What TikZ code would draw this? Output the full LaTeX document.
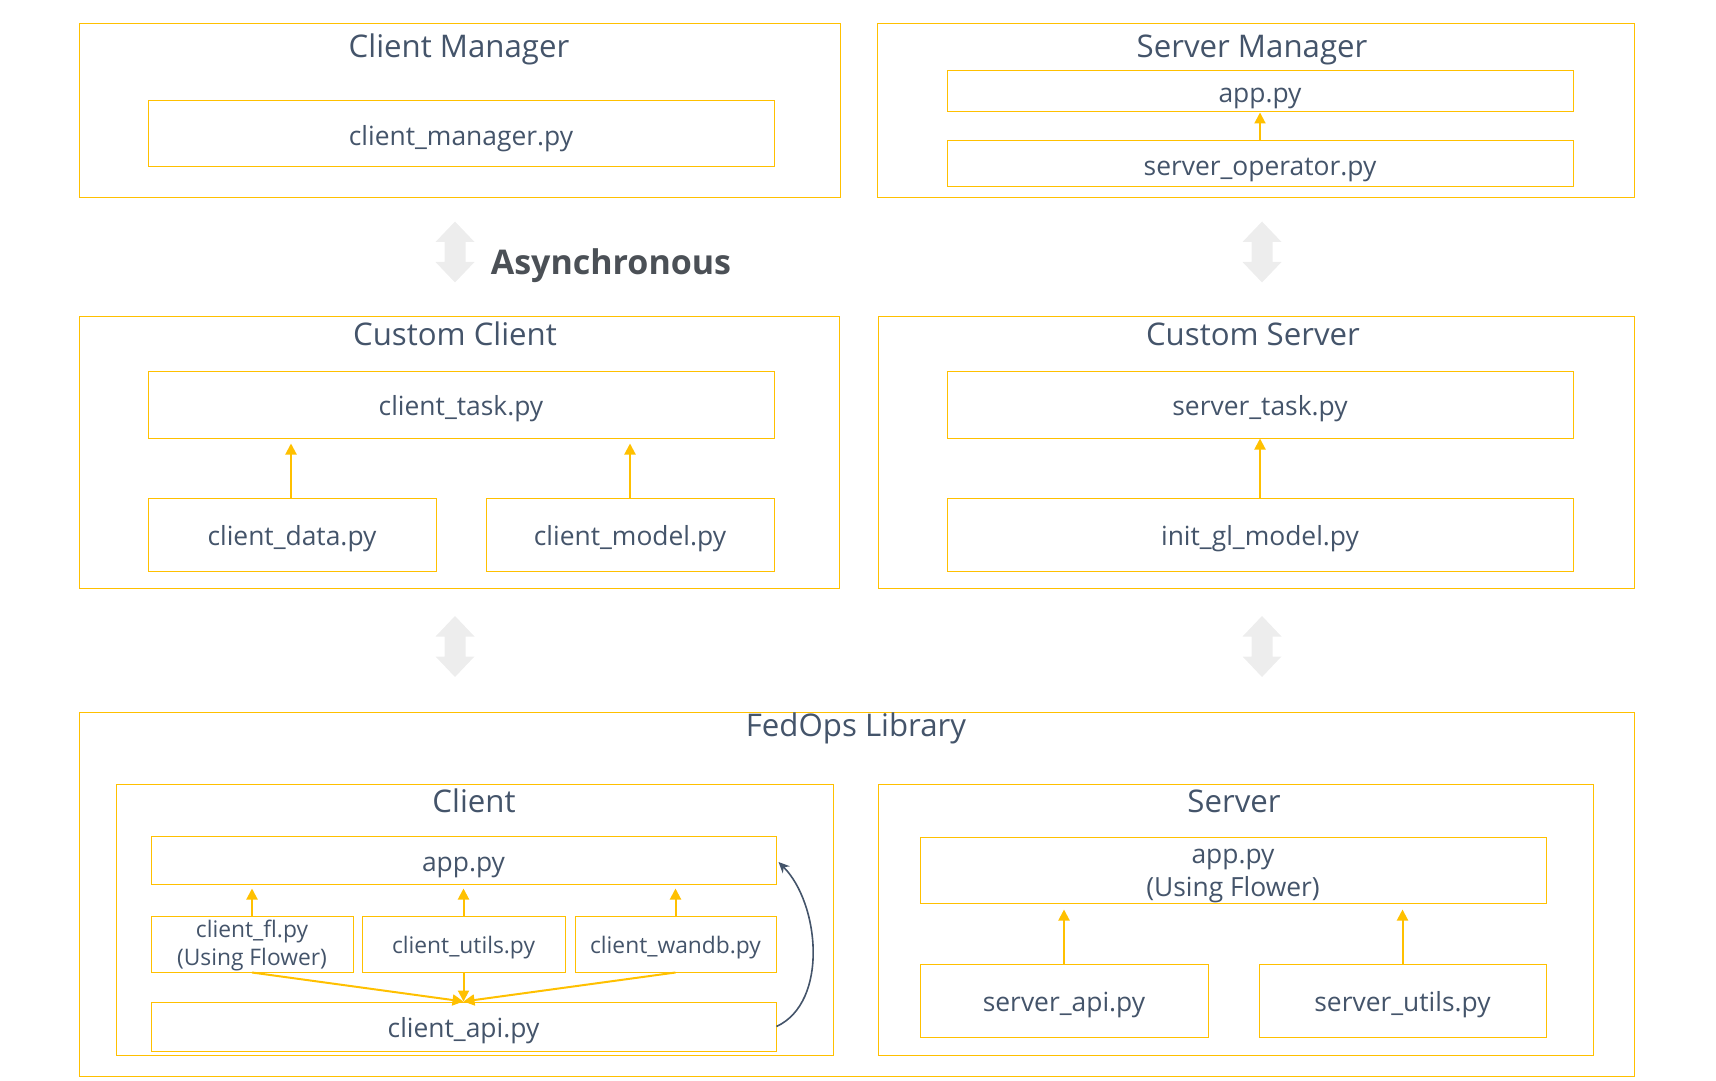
\documentclass[tikz,border=0pt]{standalone}
\usepackage{fontspec}
\setmainfont{Open Sans}
\usetikzlibrary{arrows.meta}
\usetikzlibrary{positioning}
\usetikzlibrary{calc}
\definecolor{boxYellow}{HTML}{FFC000}
\definecolor{textSlate}{HTML}{44546A}
\definecolor{asyncGray}{HTML}{EDEDED}
\definecolor{asyncText}{HTML}{4B5056}
\newcommand\titleFont{\fontsize{15.6}{18}\selectfont}
\newcommand\fileFont{\fontsize{13.2}{16.4}\selectfont}
\newcommand\smallFont{\fontsize{11.4}{13.8}\selectfont}

\begin{document}
\begin{tikzpicture}[
    x=0.5pt, y=-0.5pt,
    groupBox/.style={
        rectangle, draw=boxYellow, line width=0.5pt, inner sep=0pt
    },
    fileLines/.style={
        rectangle, draw=boxYellow, line width=0.5pt, inner sep=0pt,
        text=textSlate, font=\fileFont, align=center
    },
    fileBox/.style={fileLines, text height=14.4pt, text depth=3.3pt},
    smallLines/.style={fileLines, font=\smallFont},
    smallFile/.style={smallLines, text height=12.1pt, text depth=2.9pt},
    groupTitle/.style={text=textSlate, font=\titleFont, inner sep=0pt},
    depArrow/.style={-{Triangle[width=5.5pt,length=5.5pt]}, draw=boxYellow, line width=1pt},
    loopArrow/.style={-{Stealth[width=5pt,length=5.5pt]}, draw=textSlate, line width=0.8pt}
]
\useasboundingbox (0,0) rectangle (1716,1080);

\node[groupBox, minimum width=380.5pt, minimum height=87pt] (clientManager) at (459.5,111) {};
\node[groupBox, minimum width=378.5pt, minimum height=87pt] (serverManager) at (1255.5,111) {};
\node[groupTitle] (clientManagerTitle) at (459,49.5) {Client Manager};
\node[groupTitle] (serverManagerTitle) at (1252,49.5) {Server Manager};
\node[fileBox, minimum width=313pt, minimum height=33pt] (clientManagerPy) at (461,134) {client\_manager.py};
\node[fileBox, minimum width=313pt, minimum height=20.5pt] (managerApp) at (1260,91.5) {app.py};
\node[fileBox, minimum width=313pt, minimum height=23pt] (serverOperator) at (1260,164) {server\_operator.py};

\node[font=\bfseries\fontsize{17}{20}\selectfont, text=asyncText, inner sep=0pt] (async) at (611,265.5) {Asynchronous};

\node[groupBox, minimum width=380pt, minimum height=135.5pt] (customClient) at (459,452.5) {};
\node[groupBox, minimum width=378pt, minimum height=135.5pt] (customServer) at (1256,452.5) {};
\node[groupTitle] (customClientTitle) at (455,334) {Custom Client};
\node[groupTitle] (customServerTitle) at (1253,334) {Custom Server};
\node[fileBox, minimum width=313pt, minimum height=33.5pt] (clientTask) at (461,404.5) {client\_task.py};
\node[fileBox, minimum width=144pt, minimum height=36.5pt] (clientData) at (292,534.5) {client\_data.py};
\node[fileBox, minimum width=144pt, minimum height=36.5pt] (clientModel) at (630,534.5) {client\_model.py};
\node[fileBox, minimum width=313pt, minimum height=33.5pt] (serverTask) at (1260,404.5) {server\_task.py};
\node[fileBox, minimum width=313pt, minimum height=36.5pt] (initModel) at (1260,534.5) {init\_gl\_model.py};

\node[groupBox, minimum width=777.5pt, minimum height=182pt] (fedops) at (856.5,894) {};
\node[groupTitle] (fedopsTitle) at (856,728) {FedOps Library};
\node[groupBox, minimum width=358.5pt, minimum height=135.5pt] (libClient) at (474.5,919.5) {};
\node[groupBox, minimum width=357.5pt, minimum height=135.5pt] (libServer) at (1235.5,919.5) {};
\node[groupTitle] (libClientTitle) at (474,801) {Client};
\node[groupTitle] (libServerTitle) at (1234,801) {Server};

\node[fileBox, minimum width=312.5pt, minimum height=24pt] (clientApp) at (463.5,860) {app.py};
\node[smallLines, minimum width=101pt, minimum height=28pt] (clientFl) at (252,944) {\rule{0pt}{10pt}client\_fl.py\\(Using Flower)};
\node[smallFile, minimum width=101.5pt, minimum height=28pt] (clientUtils) at (463.5,944) {client\_utils.py};
\node[smallFile, minimum width=100.5pt, minimum height=28pt] (clientWandb) at (675.5,944) {client\_wandb.py};
\node[fileBox, minimum width=312.5pt, minimum height=24.5pt] (clientApi) at (463.5,1026.5) {client\_api.py};

\node[fileLines, minimum width=313pt, minimum height=33pt] (serverApp) at (1233,870) {\rule{0pt}{13pt}app.py\\(Using Flower)};
\node[fileBox, minimum width=144pt, minimum height=36.5pt] (serverApi) at (1064,1000.5) {server\_api.py};
\node[fileBox, minimum width=143.5pt, minimum height=36.5pt] (serverUtils) at (1402.5,1000.5) {server\_utils.py};

\foreach \ax/\ay in {455/252, 1262/252, 455/646.5, 1262/646.5} {
    \fill[asyncGray, shift={(\ax,\ay)}] (0,-30.5) -- (19.5,-10) -- (10.5,-10) -- (10.5,10)
        -- (19.5,10) -- (0,30.5) -- (-19.5,10) -- (-10.5,10) -- (-10.5,-10) -- (-19.5,-10) -- cycle;
}

\draw[depArrow] (serverOperator.north) -- (managerApp.south);
\draw[depArrow, shorten >=2.5pt] (clientData.north -| 291,0) -- (clientTask.south -| 291,0);
\draw[depArrow, shorten >=2.5pt] (clientModel.north) -- (clientTask.south -| clientModel.north);
\draw[depArrow] (initModel.north) -- (serverTask.south);
\draw[depArrow, shorten >=2pt] (clientFl.north) -- (clientApp.south -| clientFl.north);
\draw[depArrow, shorten >=2pt] (clientUtils.north) -- (clientApp.south -| clientUtils.north);
\draw[depArrow, shorten >=2pt] (clientWandb.north) -- (clientApp.south -| clientWandb.north);
\draw[depArrow] (clientFl.south) -- (clientApi.north);
\draw[depArrow] (clientUtils.south) -- (clientApi.north);
\draw[depArrow] (clientWandb.south) -- (clientApi.north);
\draw[loopArrow] (clientApi.east) to[out=25, in=-45, looseness=0.9] ($(clientApp.east)+(2,2)$);
\draw[depArrow, shorten >=3pt] (serverApi.north) -- (serverApp.south -| serverApi.north);
\draw[depArrow, shorten >=3pt] (serverUtils.north) -- (serverApp.south -| serverUtils.north);
\end{tikzpicture}
\end{document}
